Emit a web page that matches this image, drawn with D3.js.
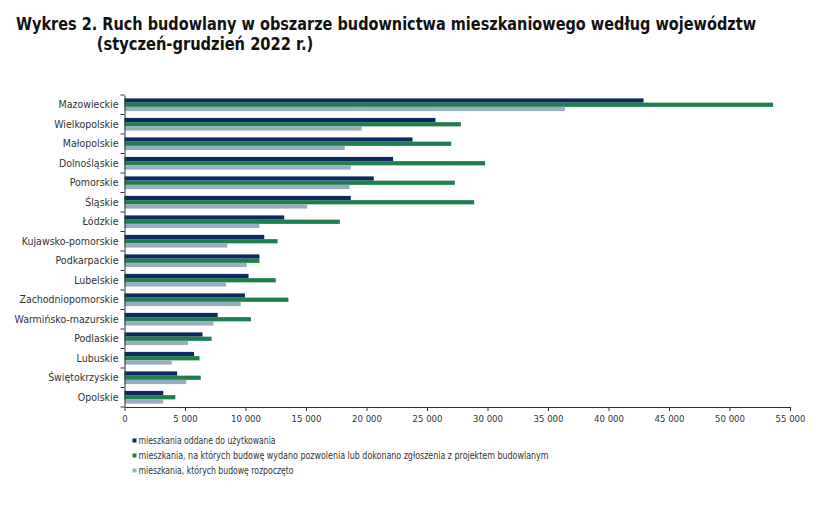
<!DOCTYPE html>
<html>
<head>
<meta charset="utf-8">
<script src="https://cdn.jsdelivr.net/npm/d3@7"></script>
<style>
  html, body { margin: 0; padding: 0; background: #fff; }
  svg { display: block; }
  text { font-family: "Liberation Sans Narrow", "DejaVu Sans Condensed", "Liberation Sans", sans-serif; }
</style>
</head>
<body>
<svg id="chart" width="834" height="511"></svg>
<script>
// ---- data ----
const categories = ["Mazowieckie","Wielkopolskie","Małopolskie","Dolnośląskie","Pomorskie","Śląskie","Łódzkie","Kujawsko-pomorskie","Podkarpackie","Lubelskie","Zachodniopomorskie","Warmińsko-mazurskie","Podlaskie","Lubuskie","Świętokrzyskie","Opolskie"];
const completed = [42900, 25700, 23800, 22200, 20600, 18700, 13200, 11550, 11150, 10250, 9950, 7700, 6450, 5750, 4350, 3200];
const permits   = [53600, 27800, 27000, 29800, 27300, 28900, 17800, 12650, 11150, 12500, 13550, 10450, 7200, 6200, 6300, 4200];
const started   = [36400, 19600, 18200, 18700, 18600, 15100, 11150, 8500, 10100, 8400, 9600, 7350, 5250, 3900, 5100, 3200];
const seriesNames = ["mieszkania oddane do użytkowania","mieszkania, na których budowę wydano pozwolenia lub dokonano zgłoszenia z projektem budowlanym","mieszkania, których budowę rozpoczęto"];
const xTickValues = [0,5000,10000,15000,20000,25000,30000,35000,40000,45000,50000,55000];
const titleLines = ["Wykres 2. Ruch budowlany w obszarze budownictwa mieszkaniowego według województw","(styczeń-grudzień 2022 r.)"];

// ---- styles ----
const colors = ["#0c2a5e", "#1f7e4f", "#98adbf"];
const svg = d3.select("#chart");

// title
svg.append("text").attr("x", 16).attr("y", 30)
  .attr("font-size", 18).attr("font-weight", "bold").attr("fill", "#111")
  .attr("textLength", 740).attr("lengthAdjust", "spacingAndGlyphs")
  .text(titleLines[0]);
svg.append("text").attr("x", 96.7).attr("y", 50)
  .attr("font-size", 18).attr("font-weight", "bold").attr("fill", "#111")
  .attr("textLength", 216.6).attr("lengthAdjust", "spacingAndGlyphs")
  .text(titleLines[1]);

// scales
const x = d3.scaleLinear().domain([0, 55000]).range([124.5, 790]);
const y = d3.scaleBand().domain(categories).range([95, 407]).paddingInner(0).paddingOuter(0);
const groupH = 12.7;
const ySub = d3.scaleBand().domain([0,1,2]).range([(y.bandwidth() - groupH) / 2, (y.bandwidth() + groupH) / 2]);

const series = [completed, permits, started];

// bars
const g = svg.append("g");
series.forEach((vals, si) => {
  g.selectAll(null).data(categories).enter().append("rect")
    .attr("x", x(0))
    .attr("y", (c) => y(c) + ySub(si))
    .attr("width", (c, i) => x(vals[i]) - x(0))
    .attr("height", ySub.bandwidth())
    .attr("fill", colors[si]);
});

// x axis
const locale = d3.formatLocale({decimal: ",", thousands: "\u00a0", grouping: [3], currency: ["", ""]});
const fmt = locale.format(",d");
const xAxis = d3.axisBottom(x).tickValues(xTickValues).tickFormat(fmt).tickSize(4).tickSizeOuter(0).tickPadding(4);
const xg = svg.append("g").attr("transform", `translate(0,${y.range()[1]})`).call(xAxis);
xg.select(".domain").attr("stroke", "#333").attr("stroke-width", 1);
xg.selectAll(".tick line").attr("stroke", "#333");
xg.selectAll(".tick text").attr("font-size", 9.5).attr("fill", "#333")
  .attr("font-family", '"Liberation Sans Narrow", "DejaVu Sans Condensed", sans-serif');

// y axis
const yAxis = d3.axisLeft(y).tickSize(0).tickPadding(6);
const yg = svg.append("g").attr("transform", `translate(${x(0)},0)`).call(yAxis);
yg.select(".domain").attr("stroke", "#333").attr("stroke-width", 1);
yg.selectAll(".tick text").attr("font-size", 10.5).attr("fill", "#333")
  .attr("font-family", '"Liberation Sans Narrow", "DejaVu Sans Condensed", sans-serif');
// boundary ticks between categories
const boundaries = categories.map(c => y(c)).concat([y.range()[1]]);
svg.append("g").selectAll("line").data(boundaries).enter().append("line")
  .attr("x1", x(0) - 4).attr("x2", x(0))
  .attr("y1", d => d).attr("y2", d => d)
  .attr("stroke", "#333").attr("stroke-width", 1);

// legend
const legendY = [440.5, 455.5, 470.5];
const legendW = [137, 410, 155];
const lg = svg.append("g");
seriesNames.forEach((name, i) => {
  lg.append("rect").attr("x", 132.5).attr("y", legendY[i] - 2).attr("width", 4).attr("height", 4).attr("fill", colors[i]);
  lg.append("text").attr("x", 138.5).attr("y", legendY[i]).attr("dy", "0.35em")
    .attr("font-size", 10.5).attr("fill", "#333")
    .attr("textLength", legendW[i]).attr("lengthAdjust", "spacingAndGlyphs")
    .text(name);
});
</script>
</body>
</html>
